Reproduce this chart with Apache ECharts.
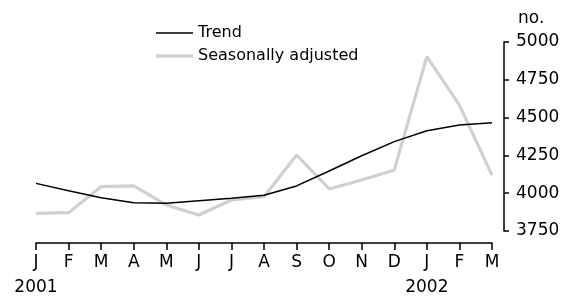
<!DOCTYPE html>
<html>
<head>
<meta charset="utf-8">
<script src="https://cdn.jsdelivr.net/npm/echarts@6/dist/echarts.min.js"></script>
<style>
    html, body {margin: 0; padding: 0; background: #fff;}
    #main {width: 578px; height: 300px;}
</style>
</head>
<body>
<div id="main"></div>
<script>
// 月份 / 年份
var months = ['J', 'F', 'M', 'A', 'M', 'J', 'J', 'A', 'S', 'O', 'N', 'D', 'J', 'F', 'M'];
var years = ['2001', '', '', '', '', '', '', '', '', '', '', '', '2002', '', ''];
// 数据
var trend = [4065, 4016, 3970, 3937, 3933, 3950, 3966, 3986, 4048, 4147, 4248, 4341, 4413, 4451, 4466];
var seasonal = [3867, 3871, 4043, 4048, 3922, 3856, 3955, 3977, 4253, 4028, 4087, 4153, 4903, 4583, 4120];
var yTicks = [3750, 4000, 4250, 4500, 4750, 5000];

var font = 'DejaVu Sans';
var chart = document.getElementById('main');
var myChart = echarts.init(chart);

var cats = [];
for (var i = 0; i < months.length; i++) {
    cats.push(i); //索引作为类目
}

var option = {
    animation: false,
    textStyle: {fontFamily: font, color: '#000'},
    legend: {
        // 图例只画线段，不画圆点
        data: [
            {name: 'Trend', icon: 'path://M0,0H37V1.6H0Z'},
            {name: 'Seasonally adjusted', icon: 'path://M0,0H37V3.4H0Z'}
        ],
        orient: 'vertical',
        left: 156,
        top: 25,
        padding: 0,
        itemWidth: 37,
        itemHeight: 14,
        itemGap: 7,
        textStyle: {fontFamily: font, fontSize: 16, color: '#000'}
    },
    grid: {left: 36, right: 86, top: 42, bottom: 69},
    xAxis: {
        type: 'category',
        data: cats,
        boundaryGap: false,
        offset: 12,
        axisLine: {lineStyle: {color: '#000', width: 1.5}},
        axisTick: {length: 7, interval: 0, lineStyle: {color: '#000', width: 1.5}},
        axisLabel: {
            interval: 0,
            margin: 7,
            fontFamily: font,
            fontSize: 17,
            lineHeight: 25,
            color: '#000',
            formatter: function (v, idx) {
                return years[idx] ? months[idx] + '\n' + years[idx] : months[idx];
            }
        },
        splitLine: {show: false}
    },
    yAxis: {
        type: 'value',
        position: 'right',
        min: yTicks[0],
        max: yTicks[yTicks.length - 1],
        interval: 250,
        offset: 12,
        name: 'no.',
        nameLocation: 'end',
        nameGap: 15,
        nameTextStyle: {fontFamily: font, fontSize: 17, color: '#000', align: 'left', padding: [0, 0, 0, 14]},
        axisLine: {show: true, lineStyle: {color: '#000', width: 1.5}},
        axisTick: {show: true, length: 5, lineStyle: {color: '#000', width: 1.5}},
        axisLabel: {
            margin: 12,
            fontFamily: font,
            fontSize: 17,
            color: '#000',
            formatter: function (v) {
                return String(v); //不要千分位
            }
        },
        splitLine: {show: false}
    },
    series: [
        {
            name: 'Seasonally adjusted',
            type: 'line',
            data: seasonal,
            symbol: 'none',
            lineStyle: {color: '#d0d0d0', width: 3.2},
            itemStyle: {color: '#d0d0d0'}
        },
        {
            name: 'Trend',
            type: 'line',
            data: trend,
            symbol: 'none',
            lineStyle: {color: '#000', width: 1.5},
            itemStyle: {color: '#000'}
        }
    ]
};
myChart.setOption(option);
</script>
</body>
</html>
